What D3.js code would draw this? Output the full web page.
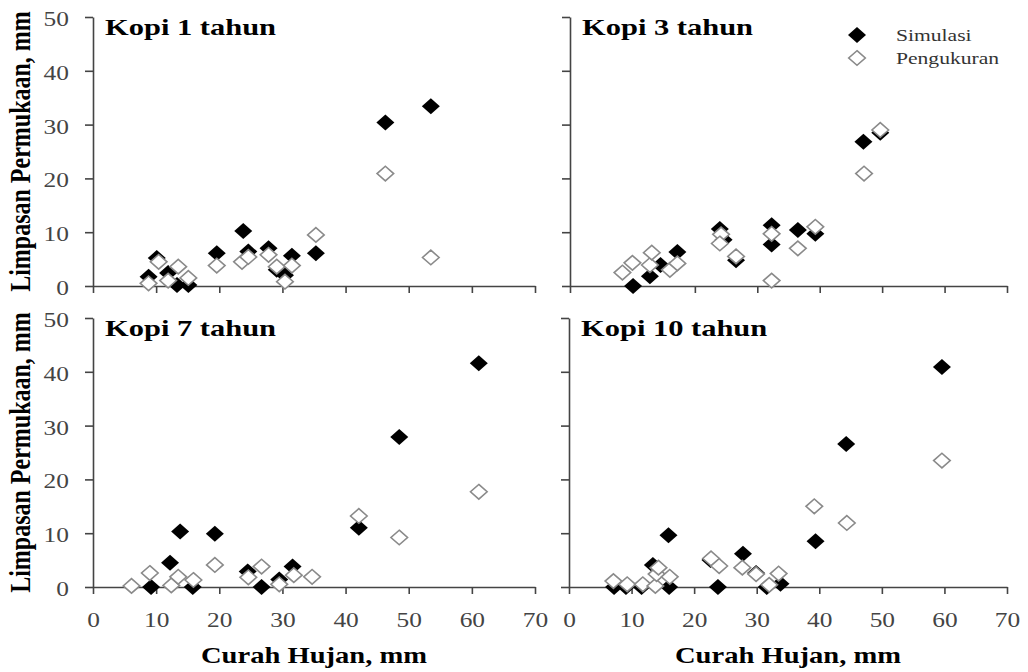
<!DOCTYPE html>
<html>
<head>
<meta charset="utf-8">
<script src="https://cdn.jsdelivr.net/npm/d3@7"></script>
<style>
  html, body { margin: 0; padding: 0; background: #fff; }
  svg { display: block; }
</style>
</head>
<body>
<svg id="chart" width="1028" height="672"></svg>
<script>
// ---------------- DATA ----------------
const panelTitles = ["Kopi 1 tahun", "Kopi 3 tahun", "Kopi 7 tahun", "Kopi 10 tahun"];
const seriesNames = ["Simulasi", "Pengukuran"];
const xTicks = [0, 10, 20, 30, 40, 50, 60, 70];
const yTicks = [0, 10, 20, 30, 40, 50];
const xTitle = "Curah Hujan, mm";
const yTitle = "Limpasan Permukaan, mm";

// Kopi 1 tahun
const rain1Sim = [8.8, 10.1, 11.9, 13.3, 15.1, 19.6, 23.8, 24.6, 27.8, 29.1, 30.4, 31.5, 35.3, 46.3, 53.5];
const run1Sim  = [1.7, 5.2, 2.4, 0.2, 0.2, 6.1, 10.2, 6.4, 7.0, 3.0, 2.0, 5.6, 6.1, 30.4, 33.4];
const rain1Obs = [8.8, 10.4, 11.9, 13.5, 15.1, 19.6, 23.6, 24.6, 27.8, 29.1, 31.5, 30.4, 35.3, 46.3, 53.5];
const run1Obs  = [0.5, 4.5, 1.0, 3.6, 1.5, 3.8, 4.5, 5.4, 5.8, 3.6, 3.8, 0.8, 9.5, 20.9, 5.3];

// Kopi 3 tahun
const rain3Sim = [10.1, 12.8, 14.5, 17.2, 24.0, 24.6, 26.6, 32.3, 32.3, 36.5, 39.3, 47.0, 49.7];
const run3Sim  = [0.0, 1.8, 3.9, 6.3, 10.6, 8.6, 4.8, 11.3, 7.7, 10.4, 9.7, 26.8, 28.5];
const rain3Obs = [8.4, 10.0, 12.8, 13.1, 16.0, 17.2, 24.2, 24.0, 26.6, 32.3, 32.3, 36.5, 39.3, 47.1, 49.7];
const run3Obs  = [2.5, 4.3, 3.9, 6.2, 3.0, 4.2, 9.6, 7.9, 5.5, 9.7, 1.0, 7.0, 11.0, 20.9, 29.0];

// Kopi 7 tahun
const rain7Sim = [9.2, 12.2, 13.8, 15.8, 19.3, 24.5, 26.7, 29.5, 31.6, 42.1, 48.5, 61.1];
const run7Sim  = [0.0, 4.5, 10.3, 0.0, 9.9, 2.9, 0.0, 1.4, 3.8, 11.0, 27.9, 41.6];
const rain7Obs = [6.1, 9.0, 12.4, 13.5, 15.9, 19.3, 24.6, 26.7, 29.5, 31.8, 34.7, 42.1, 48.5, 61.1];
const run7Obs  = [0.2, 2.6, 0.3, 1.9, 1.3, 4.1, 1.8, 3.8, 0.5, 2.2, 1.9, 13.2, 9.2, 17.7];

// Kopi 10 tahun
const rain10Sim = [7.2, 9.1, 11.6, 13.4, 16.0, 15.9, 22.6, 23.8, 27.8, 29.9, 31.6, 33.8, 39.4, 44.3, 59.6];
const run10Sim  = [0.0, 0.0, 0.0, 4.1, 0.0, 9.6, 5.0, 0.0, 6.2, 2.6, 0.0, 0.6, 8.5, 26.6, 40.9];
const rain10Obs = [7.1, 9.3, 11.8, 13.8, 14.0, 14.3, 16.1, 22.7, 24.0, 27.7, 29.9, 32.0, 33.5, 39.2, 44.4, 59.6];
const run10Obs  = [1.1, 0.5, 0.5, 0.2, 2.4, 3.6, 1.9, 5.3, 3.9, 3.6, 2.4, 0.4, 2.5, 15.0, 11.9, 23.5];

// ---------------- LAYOUT ----------------
const SX = 1.27; // horizontal glyph stretch seen in the reference
const FONT = "'Liberation Serif', 'Times New Roman', serif";
const svg = d3.select("#chart");

const panels = [
  { title: panelTitles[0], xs: rain1Sim, ys: run1Sim, xo: rain1Obs, yo: run1Obs, left: 93, right: 535, bottom: 286, top: 17, yLab: true, xLab: false, legend: false },
  { title: panelTitles[1], xs: rain3Sim, ys: run3Sim, xo: rain3Obs, yo: run3Obs, left: 570, right: 1007, bottom: 286, top: 17, yLab: false, xLab: false, legend: true },
  { title: panelTitles[2], xs: rain7Sim, ys: run7Sim, xo: rain7Obs, yo: run7Obs, left: 93, right: 535, bottom: 587, top: 318, yLab: true, xLab: true, legend: false },
  { title: panelTitles[3], xs: rain10Sim, ys: run10Sim, xo: rain10Obs, yo: run10Obs, left: 569, right: 1007, bottom: 587, top: 318, yLab: false, xLab: true, legend: false }
];

function diamond(w, h) {
  return `M0,${-h}L${w},0L0,${h}L${-w},0Z`;
}
const filledPath = diamond(9, 8);
const openPath = diamond(8.3, 7.3);

function stretchedText(g, x, y, txt, opts) {
  const t = g.append("text")
    .attr("transform", `translate(${x},${y}) scale(${SX},1)` + (opts.rotate ? ` rotate(${opts.rotate})` : ""))
    .attr("text-anchor", opts.anchor || "start")
    .style("font-family", FONT)
    .attr("font-size", opts.size)
    .attr("font-weight", opts.weight || "normal")
    .attr("fill", opts.fill || "#000")
    .text(txt);
  return t;
}

panels.forEach(p => {
  const g = svg.append("g");
  const x = d3.scaleLinear().domain([0, 70]).range([p.left, p.right]);
  const y = d3.scaleLinear().domain([0, 50]).range([p.bottom, p.top]);

  // axes
  const xAxis = d3.axisBottom(x).tickValues(xTicks).tickSize(7).tickSizeOuter(0)
    .tickFormat(p.xLab ? d3.format("d") : () => "");
  const yAxis = d3.axisLeft(y).tickValues(yTicks).tickSize(8).tickSizeOuter(0)
    .tickFormat(p.yLab ? d3.format("d") : () => "");

  const gx = g.append("g").attr("transform", `translate(0,${y(0)})`).call(xAxis);
  const gy = g.append("g").attr("transform", `translate(${x(0)},0)`).call(yAxis);

  [gx, gy].forEach(a => {
    a.attr("font-family", null);
    a.select(".domain").attr("stroke", "#444").attr("stroke-width", 1.6);
    a.selectAll(".tick line").attr("stroke", "#444").attr("stroke-width", 1.6);
    a.selectAll(".tick text")
      .style("font-family", FONT).attr("font-size", 20).attr("fill", "#444");
  });
  gx.selectAll(".tick text").attr("y", 26).attr("transform", `scale(${SX},1)`);
  gy.selectAll(".tick text").attr("x", -24 / SX).attr("dy", "0.42em").attr("transform", `scale(${SX},1)`);

  // markers: simulation first, measurement on top
  g.append("g").selectAll("path").data(p.xs.map((v, i) => [v, p.ys[i]]))
    .join("path")
    .attr("d", filledPath)
    .attr("transform", d => `translate(${x(d[0])},${y(d[1])})`)
    .attr("fill", "#000");

  g.append("g").selectAll("path").data(p.xo.map((v, i) => [v, p.yo[i]]))
    .join("path")
    .attr("d", openPath)
    .attr("transform", d => `translate(${x(d[0])},${y(d[1])})`)
    .attr("fill", "#fff")
    .attr("stroke", "#8a8a8a")
    .attr("stroke-width", 1.6);

  // panel title
  stretchedText(g, p.left + 12, p.top + 18, p.title, { size: 24, weight: "bold" });

  // axis titles
  if (p.yLab) {
    stretchedText(g, 30, (p.top + p.bottom) / 2, yTitle, { size: 24, weight: "bold", anchor: "middle", rotate: -90 });
  }
  if (p.xLab) {
    stretchedText(g, (p.left + p.right) / 2, 663, xTitle, { size: 22.5, weight: "bold", anchor: "middle" });
  }

  // legend
  if (p.legend) {
    const lg = g.append("g");
    const lx = 857, ly = [35, 58];
    lg.append("path").attr("d", filledPath).attr("transform", `translate(${lx},${ly[0]})`).attr("fill", "#000");
    lg.append("path").attr("d", openPath).attr("transform", `translate(${lx},${ly[1]})`)
      .attr("fill", "#fff").attr("stroke", "#8a8a8a").attr("stroke-width", 1.6);
    stretchedText(lg, 896, ly[0] + 6, seriesNames[0], { size: 17, fill: "#333" });
    stretchedText(lg, 896, ly[1] + 6, seriesNames[1], { size: 17, fill: "#333" });
  }
});
</script>
</body>
</html>
